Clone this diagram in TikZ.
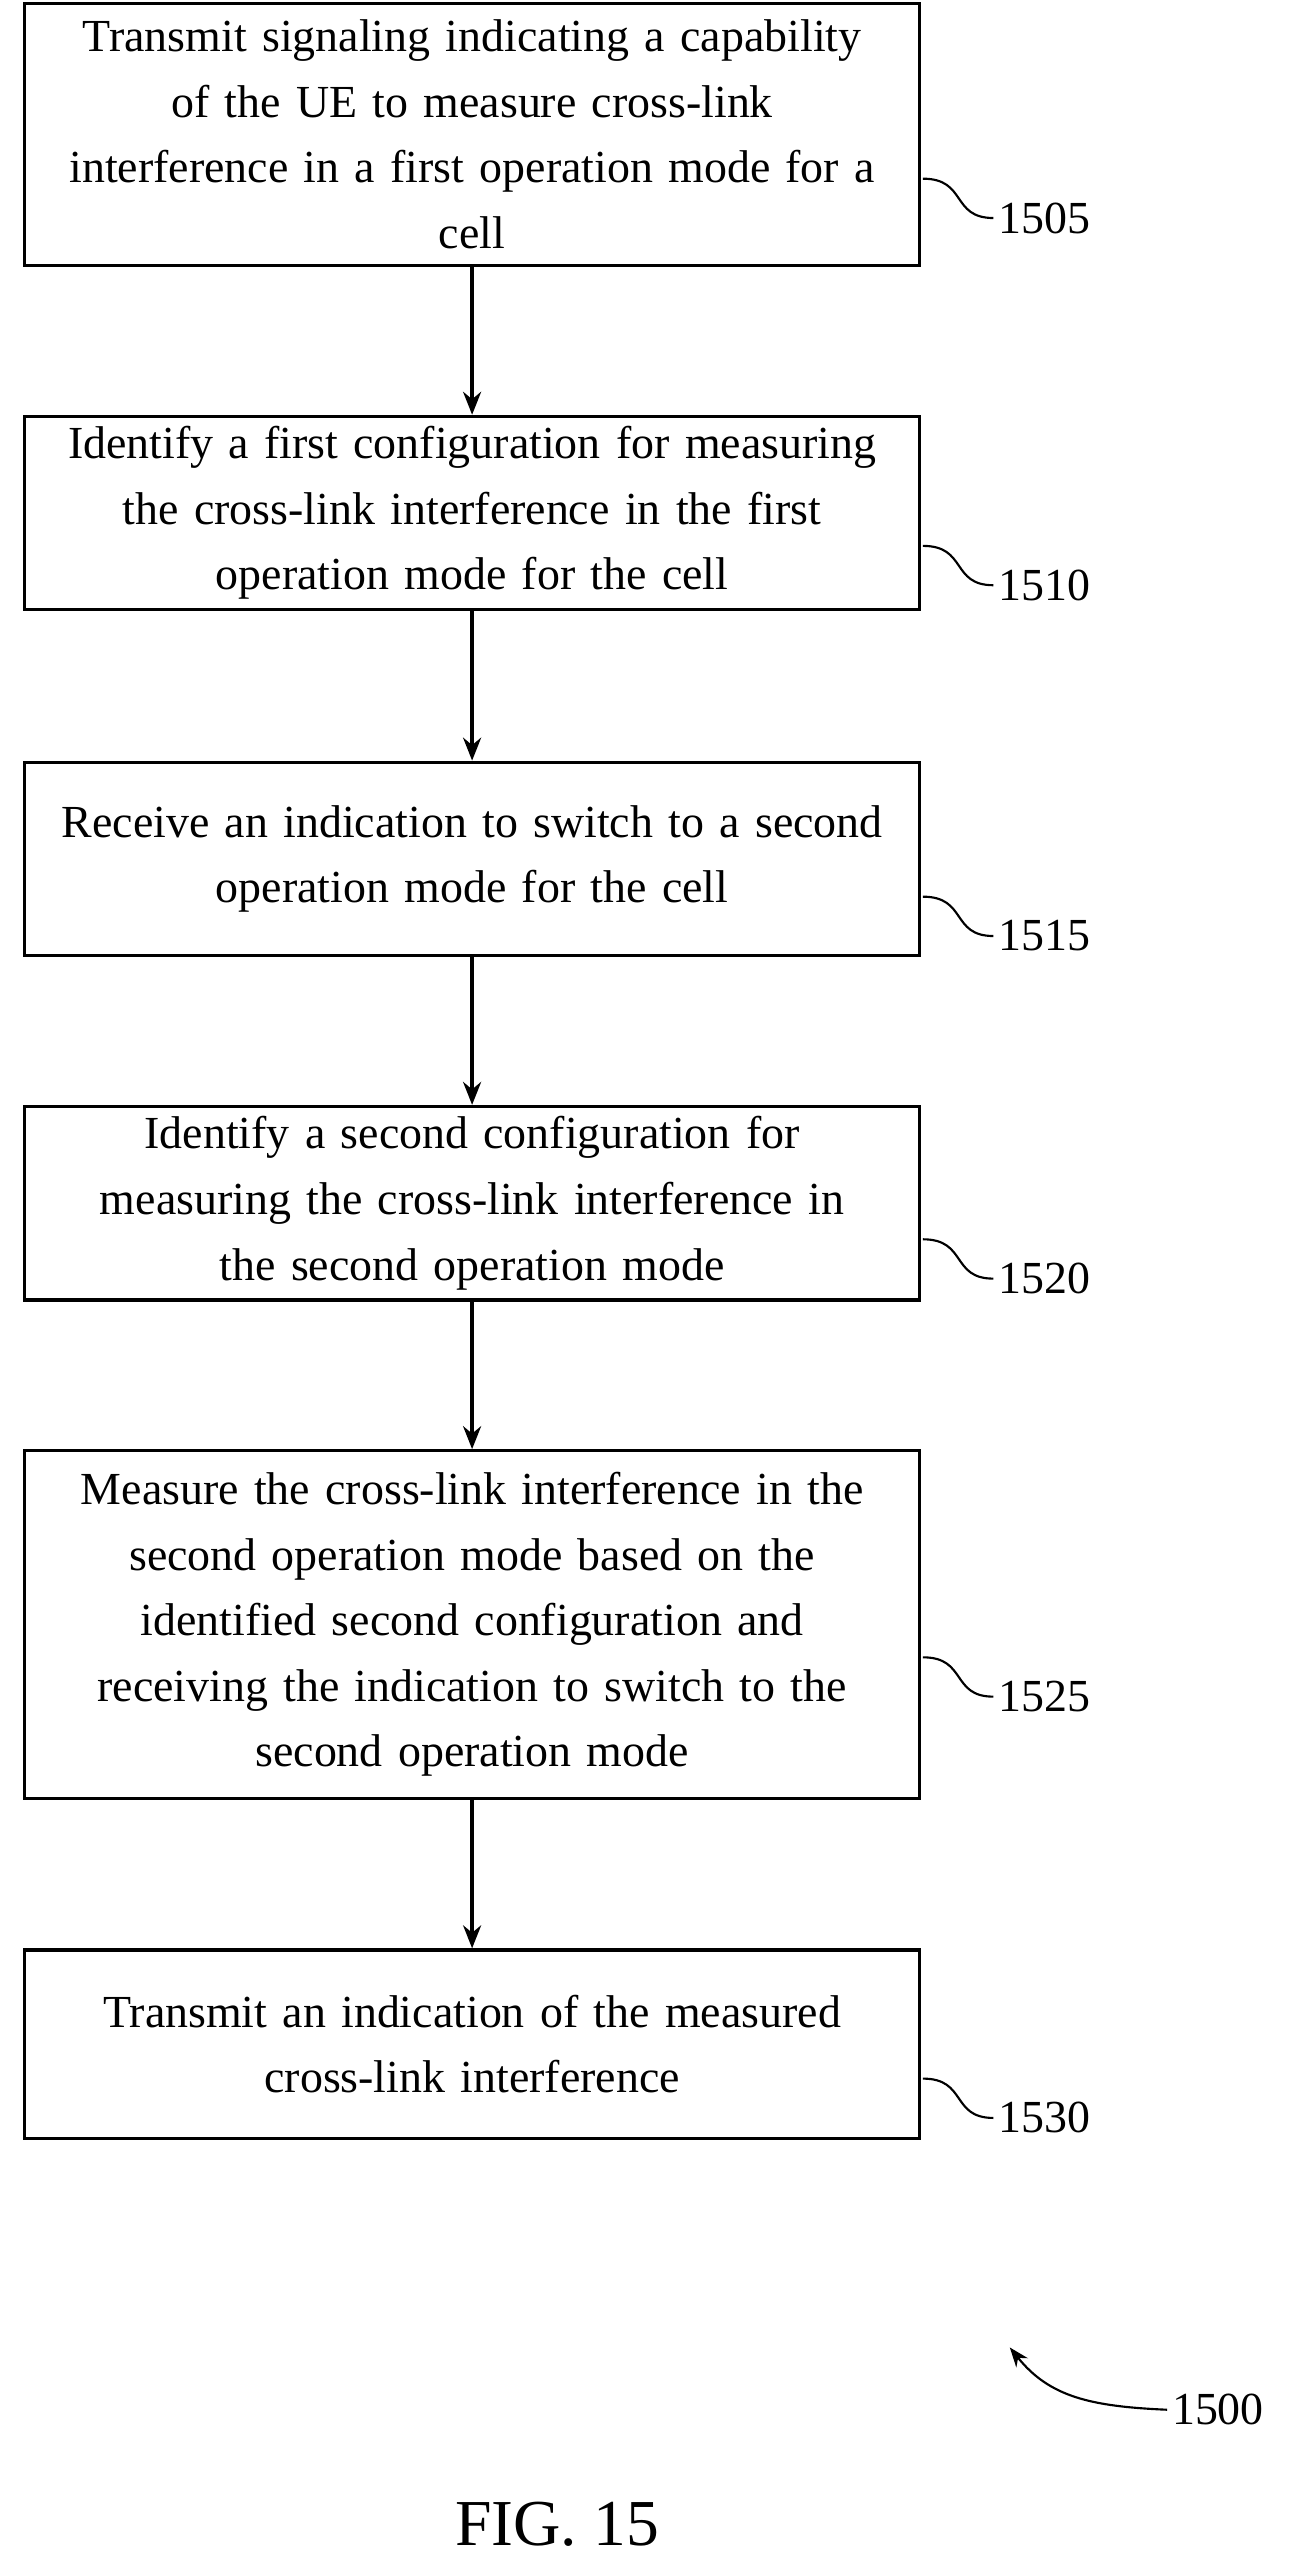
\documentclass[tikz,border=0pt]{standalone}
\usepackage{fontspec}
\setmainfont{Liberation Serif}
\usetikzlibrary{arrows.meta}
\begin{document}
\begin{tikzpicture}[x = 1pt, y = -1pt, line width = 2pt,
	every node/.style = {font = \fontsize{28}{40}\selectfont},
	stepbox/.style = {draw = black, text width = 546pt, align = center, inner sep = 0pt},
	lead/.style = {line width = 1.3pt},
	flow/.style = {-{Stealth[length = 14pt, width = 11pt]}}]

	\useasboundingbox (0, 0) rectangle (800, 1569);

		\node (s1505) at (288,   82) [stepbox, minimum height = 160pt] {Transmit signaling indicating a capability\\of the UE to measure cross-link\\interference in a first operation mode for a\\cell};
		\node (s1510) at (288,  313) [stepbox, minimum height = 118pt] {Identify a first configuration for measuring\\the cross-link interference in the first\\operation mode for the cell};
		\node (s1515) at (288,  524) [stepbox, minimum height = 118pt] {Receive an indication to switch to a second\\operation mode for the cell};
		\node (s1520) at (288,  734) [stepbox, minimum height = 118pt] {Identify a second configuration for\\measuring the cross-link interference in\\the second operation mode};
		\node (s1525) at (288,  991) [stepbox, minimum height = 212pt] {Measure the cross-link interference in the\\second operation mode based on the\\identified second configuration and\\receiving the indication to switch to the\\second operation mode};
		\node (s1530) at (288, 1247) [stepbox, minimum height = 115pt] {Transmit an indication of the measured\\cross-link interference};

	    \foreach \from/\to in {s1505/s1510, s1510/s1515, s1515/s1520, s1520/s1525, s1525/s1530}
	    	\draw[flow] (\from) -- (\to);

	    % reference numerals with leaders
	    \foreach \id/\y in {1505/133, 1510/357, 1515/571, 1520/780, 1525/1035, 1530/1292} {
	    	\node (n\id) at (606, \y) [anchor = west, inner sep = 2pt] {\id};
	    	\coordinate (c\id) at (563, \y - 24);
	    	\draw[lead] (c\id) .. controls (590, \y - 24) and (580, \y) .. (n\id.west);
	    }

		\node (n1500) at (712, 1470) [anchor = west, inner sep = 2pt] {1500};
		\coordinate (t1500) at (616, 1432);
		\draw[lead, -{Stealth[length = 12pt, width = 9pt]}] (n1500.west) .. controls (665, 1468) and (640, 1462) .. (t1500);

		\node (fig) at (340, 1540) [font = \fontsize{40}{44}\selectfont] {FIG. 15};

	\end{tikzpicture}
\end{document}
